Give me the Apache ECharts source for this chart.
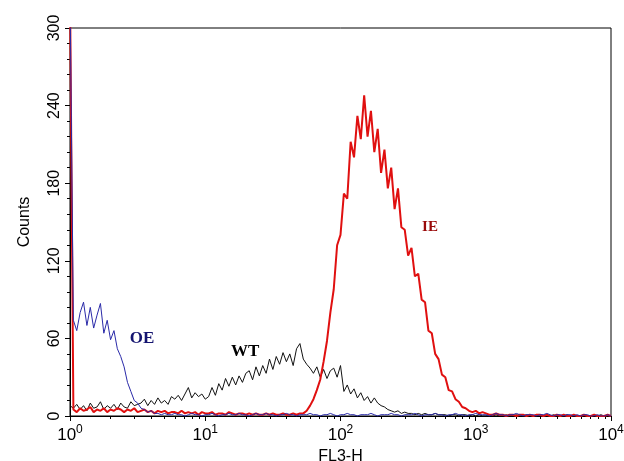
<!DOCTYPE html>
<html>
<head>
<meta charset="utf-8">
<script src="https://cdn.jsdelivr.net/npm/echarts@6/dist/echarts.min.js"></script>
<style>
html, body { margin: 0; padding: 0; background: #fff; }
#chart { width: 624px; height: 461px; }
</style>
</head>
<body>
<div id="chart"></div>
<script>
// histogram channels, log amplified: 40 channels per decade, 10^0 .. 10^4
const channelsPerDecade = 40
const decades = [1, 10, 100, 1000, 10000]

const oeCounts = [
  330, 74, 66, 80, 88, 70, 84, 68, 78, 87,
  64, 74, 59, 66, 52, 46, 38, 26, 19, 12,
  10, 6, 5, 3, 4, 2, 2, 1, 2, 1,
  1, 2, 1, 1, 0, 1, 2, 1, 1, 0,
  1, 1, 2, 1, 0, 1, 1, 2, 1, 1,
  2, 1, 1, 0, 1, 2, 1, 1, 2, 1,
  1, 0, 1, 1, 2, 1, 1, 0, 1, 1,
  1, 2, 1, 1, 0, 1, 1, 2, 1, 0,
  1, 1, 2, 1, 1, 0, 1, 1, 1, 2,
  1, 0, 1, 1, 1, 2, 1, 1, 0, 1,
  1, 1, 2, 1, 0, 1, 1, 1, 2, 1,
  1, 0, 1, 1, 2, 1, 1, 0, 1, 1,
  2, 1, 1, 1, 0, 1, 2, 1, 1, 0,
  1, 1, 2, 1, 0, 1, 1, 1, 0, 1,
  1, 2, 1, 0, 1, 1, 0, 1, 1, 0,
  1, 0, 1, 1, 0, 0, 1, 0, 0, 1, 0
]

const wtCounts = [
  8,
  6, 9, 5, 8, 4, 10, 6, 7, 11, 5,
  8, 6, 9, 5, 10, 7, 6, 11, 8, 9,
  10, 13, 8, 12, 9, 14, 10, 12, 9, 15,
  13, 16, 12, 17, 22, 14, 18, 15, 17, 13,
  15, 22, 16, 25, 20, 29, 23, 30, 24, 31,
  26, 33, 35, 28, 38, 31, 39, 33, 44, 36,
  46, 40, 49, 42, 48, 39, 52, 56, 44, 40,
  37, 33, 38, 30, 36, 29, 35, 37, 30, 39,
  19, 24, 17, 21, 14, 18, 12, 15, 10, 14,
  10, 8, 7, 5, 4, 3, 4, 2, 3, 2,
  2, 1, 2, 1, 2, 1, 1, 2, 1, 1,
  1, 0, 1, 1, 0, 1, 1, 0, 1, 0,
  1, 0, 0, 1, 0, 1, 0, 0, 1, 0,
  0, 1, 0, 0, 1, 0, 0, 0, 1, 0,
  0, 0, 1, 0, 0, 0, 1, 0, 0, 0,
  0, 1, 0, 0, 0, 0, 1, 0, 0, 0
]

const ieCounts = [
  330,
  5, 3, 6, 4, 5, 7, 3, 5, 4, 6,
  3, 5, 4, 6, 5, 3, 5, 4, 6, 3,
  4, 5, 3, 4, 2, 4, 3, 4, 2, 3,
  3, 2, 4, 2, 3, 2, 3, 1, 3, 2,
  2, 3, 1, 2, 2, 1, 3, 2, 1, 2,
  2, 1, 2, 1, 2, 1, 1, 2, 1, 2,
  1, 1, 2, 1, 1, 2, 1, 2, 2, 4,
  8, 13, 20, 28, 42, 58, 80, 98, 132, 140,
  172, 168, 212, 200, 232, 214, 248, 216, 236, 204,
  222, 188, 206, 176, 192, 160, 176, 146, 144, 124,
  130, 108, 110, 90, 88, 66, 64, 48, 44, 32,
  30, 20, 19, 13, 11, 7, 6, 4, 3, 4,
  2, 3, 2, 1, 1, 2, 1, 1, 0, 1,
  1, 0, 1, 1, 0, 1, 0, 1, 1, 0,
  1, 0, 0, 1, 0, 1, 0, 0, 1, 0,
  0, 1, 0, 0, 1, 0, 0, 0, 1, 0
]

function toPairs(counts) {
  return counts.map((c, i) => [Math.pow(10, i / channelsPerDecade), c])
}

const minorTicks = []
decades.slice(0, -1).forEach(d => {
  for (let k = 2; k < 10; k++) minorTicks.push(d * k)
})

const sans = 'Liberation Sans'
const serif = 'Liberation Serif'

function tagLabel(text, color, coord, size) {
  return {
    symbol: 'circle',
    symbolSize: 1,
    silent: true,
    itemStyle: { color: 'rgba(0,0,0,0)' },
    label: {
      show: true,
      position: 'inside',
      formatter: text,
      color: color,
      fontFamily: serif,
      fontWeight: 'bold',
      fontSize: size
    },
    data: [{ coord: coord }]
  }
}

const chart = echarts.init(document.getElementById('chart'))
chart.setOption({
  animation: false,
  backgroundColor: '#fff',
  grid: {
    left: 70, right: 13, top: 28, bottom: 45,
    containLabel: false,
    outerBoundsMode: 'none',
    show: true, borderColor: '#000', borderWidth: 1
  },
  xAxis: [{
    type: 'log',
    logBase: 10,
    min: 1,
    max: 10000,
    name: 'FL3-H',
    nameLocation: 'middle',
    nameGap: 26,
    nameTextStyle: { fontFamily: sans, fontSize: 16, color: '#000' },
    axisLine: { lineStyle: { color: '#000', width: 1 } },
    axisTick: { length: 5, customValues: decades, lineStyle: { color: '#000' } },
    axisLabel: {
      customValues: decades,
      margin: 8,
      formatter: v => '{b|10}{e|' + Math.round(Math.log10(v)) + '}',
      rich: {
        b: { fontFamily: sans, fontSize: 17, color: '#000', lineHeight: 20, verticalAlign: 'bottom' },
        e: { fontFamily: sans, fontSize: 12, color: '#000', lineHeight: 20, verticalAlign: 'top' }
      }
    },
    splitLine: { show: false }
  }, {
    type: 'log',
    logBase: 10,
    min: 1,
    max: 10000,
    position: 'bottom',
    axisLine: { show: false },
    axisTick: { length: 3, customValues: minorTicks, lineStyle: { color: '#000' } },
    axisLabel: { show: false },
    splitLine: { show: false }
  }],
  yAxis: {
    type: 'value',
    min: 0,
    max: 300,
    interval: 60,
    name: 'Counts',
    nameLocation: 'middle',
    nameGap: 37,
    nameTextStyle: { fontFamily: sans, fontSize: 16, color: '#000' },
    axisLine: { show: true, lineStyle: { color: '#000', width: 1 } },
    axisTick: { show: true, length: 5, lineStyle: { color: '#000' } },
    minorTick: { show: true, splitNumber: 5, length: 3, lineStyle: { color: '#000' } },
    axisLabel: { rotate: 90, margin: 7, fontFamily: sans, fontSize: 16, color: '#000' },
    splitLine: { show: false }
  },
  series: [{
    name: 'WT',
    type: 'line',
    data: toPairs(wtCounts),
    symbol: 'none',
    lineStyle: { color: '#111', width: 1 },
    markPoint: tagLabel('WT', '#000', [19.7, 49.5], 17)
  }, {
    name: 'IE',
    type: 'line',
    data: toPairs(ieCounts),
    symbol: 'none',
    lineStyle: { color: '#e01010', width: 2 },
    markPoint: tagLabel('IE', '#9a0a0a', [459, 146], 15)
  }, {
    name: 'OE',
    type: 'line',
    data: toPairs(oeCounts),
    symbol: 'none',
    lineStyle: { color: '#2a2aa8', width: 1 },
    markPoint: tagLabel('OE', '#141470', [3.41, 60], 17)
  }]
})
</script>
</body>
</html>
